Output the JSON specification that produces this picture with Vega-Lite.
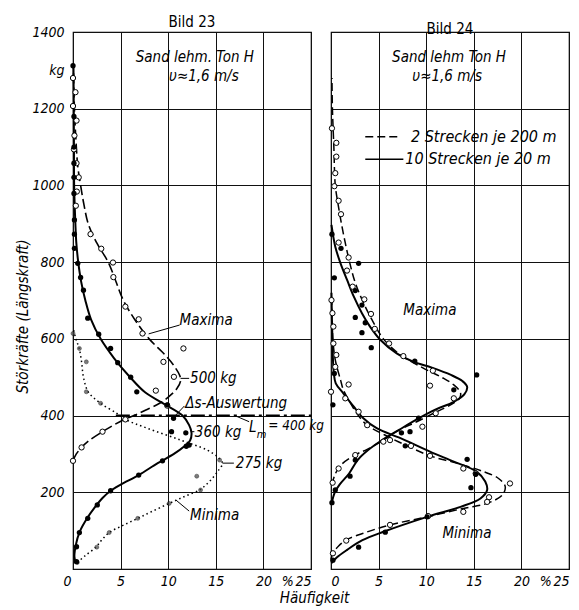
{
  "$schema": "https://vega.github.io/schema/vega-lite/v6.json",
  "padding": {"left": 14, "top": 14, "right": 4, "bottom": 2},
  "spacing": 20,
  "bounds": "flush",
  "config": {
    "font": "Liberation Sans Narrow, DejaVu Sans Condensed, sans-serif",
    "view": {"stroke": "black", "strokeWidth": 1.2},
    "axis": {
      "labelFont": "Liberation Sans Narrow, DejaVu Sans Condensed, sans-serif",
      "labelFontStyle": "italic", "labelFontSize": 14, "labelColor": "black",
      "titleFont": "Liberation Sans Narrow, DejaVu Sans Condensed, sans-serif",
      "titleFontStyle": "italic", "titleFontWeight": "normal", "titleFontSize": 15, "titleColor": "black",
      "gridColor": "#111", "gridWidth": 1, "ticks": false, "domain": false
    },
    "title": {"fontWeight": "normal", "fontSize": 15, "color": "black", "offset": -5, "font": "Liberation Sans Narrow, DejaVu Sans Condensed, sans-serif"},
    "text": {"fontStyle": "italic", "fontSize": 15, "color": "black", "font": "Liberation Sans Narrow, DejaVu Sans Condensed, sans-serif"}
  },
  "datasets": {
    "curves": [
      {"c":"23a","x":0.05,"y":1300},{"c":"23a","x":0.15,"y":1200},{"c":"23a","x":0.35,"y":1100},{"c":"23a","x":0.5,"y":1050},{"c":"23a","x":0.8,"y":1000},{"c":"23a","x":1.15,"y":950},{"c":"23a","x":1.6,"y":900},{"c":"23a","x":2.5,"y":850},{"c":"23a","x":3.7,"y":800},{"c":"23a","x":4.5,"y":750},{"c":"23a","x":5.3,"y":700},{"c":"23a","x":6.5,"y":650},{"c":"23a","x":8.0,"y":600},{"c":"23a","x":9.6,"y":560},{"c":"23a","x":10.6,"y":530},{"c":"23a","x":11.2,"y":505},{"c":"23a","x":11.3,"y":490},{"c":"23a","x":10.9,"y":470},{"c":"23a","x":10.1,"y":450},{"c":"23a","x":9.1,"y":432},{"c":"23a","x":7.6,"y":414},{"c":"23a","x":6.4,"y":400},{"c":"23a","x":5.4,"y":390},{"c":"23a","x":3.9,"y":370},{"c":"23a","x":2.9,"y":355},{"c":"23a","x":1.7,"y":335},{"c":"23a","x":0.9,"y":317},{"c":"23a","x":0.35,"y":300},{"c":"23a","x":0.05,"y":285},
      {"c":"23b","x":0.05,"y":1310},{"c":"23b","x":0.08,"y":1200},{"c":"23b","x":0.1,"y":1100},{"c":"23b","x":0.12,"y":1000},{"c":"23b","x":0.25,"y":900},{"c":"23b","x":0.35,"y":850},{"c":"23b","x":0.55,"y":800},{"c":"23b","x":0.85,"y":750},{"c":"23b","x":1.3,"y":700},{"c":"23b","x":1.9,"y":650},{"c":"23b","x":2.9,"y":600},{"c":"23b","x":4.3,"y":550},{"c":"23b","x":6.0,"y":500},{"c":"23b","x":7.6,"y":460},{"c":"23b","x":9.6,"y":430},{"c":"23b","x":11.5,"y":400},{"c":"23b","x":12.2,"y":375},{"c":"23b","x":12.45,"y":355},{"c":"23b","x":12.3,"y":335},{"c":"23b","x":11.7,"y":320},{"c":"23b","x":10.6,"y":300},{"c":"23b","x":8.9,"y":276},{"c":"23b","x":6.9,"y":245},{"c":"23b","x":5.0,"y":220},{"c":"23b","x":3.95,"y":204},{"c":"23b","x":3.1,"y":185},{"c":"23b","x":2.55,"y":169},{"c":"23b","x":1.55,"y":135},{"c":"23b","x":0.7,"y":97},{"c":"23b","x":0.3,"y":63},{"c":"23b","x":0.15,"y":32},{"c":"23b","x":0.3,"y":15},
      {"c":"23c","x":0.0,"y":630},{"c":"23c","x":0.3,"y":600},{"c":"23c","x":0.65,"y":575},{"c":"23c","x":0.9,"y":540},{"c":"23c","x":1.1,"y":500},{"c":"23c","x":1.6,"y":462},{"c":"23c","x":2.9,"y":432},{"c":"23c","x":4.6,"y":406},{"c":"23c","x":5.5,"y":390},{"c":"23c","x":7.8,"y":367},{"c":"23c","x":11.3,"y":336},{"c":"23c","x":14.1,"y":310},{"c":"23c","x":15.3,"y":290},{"c":"23c","x":15.7,"y":275},{"c":"23c","x":15.3,"y":258},{"c":"23c","x":14.8,"y":241},{"c":"23c","x":14.0,"y":220},{"c":"23c","x":13.3,"y":206},{"c":"23c","x":11.8,"y":190},{"c":"23c","x":10.1,"y":171},{"c":"23c","x":8.3,"y":150},{"c":"23c","x":6.8,"y":132},{"c":"23c","x":5.2,"y":113},{"c":"23c","x":3.8,"y":95},{"c":"23c","x":3.0,"y":75},{"c":"23c","x":2.4,"y":57},{"c":"23c","x":1.3,"y":35},{"c":"23c","x":0.45,"y":17},
      {"c":"24d","x":0.1,"y":1280},{"c":"24d","x":0.15,"y":1200},{"c":"24d","x":0.3,"y":1100},{"c":"24d","x":0.45,"y":1000},{"c":"24d","x":0.75,"y":950},{"c":"24d","x":1.1,"y":900},{"c":"24d","x":1.5,"y":850},{"c":"24d","x":1.95,"y":800},{"c":"24d","x":2.5,"y":750},{"c":"24d","x":3.3,"y":700},{"c":"24d","x":4.3,"y":650},{"c":"24d","x":5.5,"y":600},{"c":"24d","x":7.2,"y":560},{"c":"24d","x":9.6,"y":525},{"c":"24d","x":11.6,"y":500},{"c":"24d","x":12.9,"y":480},{"c":"24d","x":13.6,"y":460},{"c":"24d","x":13.5,"y":445},{"c":"24d","x":12.7,"y":430},{"c":"24d","x":11.1,"y":410},{"c":"24d","x":9.0,"y":384},{"c":"24d","x":7.0,"y":360},{"c":"24d","x":5.5,"y":336},{"c":"24d","x":3.8,"y":312},{"c":"24d","x":2.5,"y":297},{"c":"24d","x":1.0,"y":270},{"c":"24d","x":0.4,"y":245},{"c":"24d","x":0.1,"y":220},
      {"c":"24e","x":0.05,"y":897},{"c":"24e","x":0.45,"y":840},{"c":"24e","x":1.0,"y":797},{"c":"24e","x":1.7,"y":753},{"c":"24e","x":2.4,"y":710},{"c":"24e","x":3.25,"y":667},{"c":"24e","x":4.1,"y":632},{"c":"24e","x":5.2,"y":597},{"c":"24e","x":6.9,"y":562},{"c":"24e","x":8.7,"y":540},{"c":"24e","x":10.6,"y":525},{"c":"24e","x":12.6,"y":506},{"c":"24e","x":13.8,"y":490},{"c":"24e","x":14.3,"y":475},{"c":"24e","x":14.0,"y":455},{"c":"24e","x":12.9,"y":436},{"c":"24e","x":10.9,"y":415},{"c":"24e","x":9.0,"y":390},{"c":"24e","x":7.1,"y":362},{"c":"24e","x":5.3,"y":335},{"c":"24e","x":3.9,"y":310},{"c":"24e","x":2.8,"y":284},{"c":"24e","x":1.9,"y":249},{"c":"24e","x":0.9,"y":220},{"c":"24e","x":0.4,"y":200},{"c":"24e","x":0.05,"y":170},
      {"c":"24f","x":0.05,"y":720},{"c":"24f","x":0.12,"y":650},{"c":"24f","x":0.2,"y":597},{"c":"24f","x":0.45,"y":545},{"c":"24f","x":1.0,"y":493},{"c":"24f","x":1.3,"y":467},{"c":"24f","x":1.85,"y":441},{"c":"24f","x":2.7,"y":406},{"c":"24f","x":3.8,"y":375},{"c":"24f","x":5.6,"y":350},{"c":"24f","x":8.0,"y":321},{"c":"24f","x":10.4,"y":295},{"c":"24f","x":13.2,"y":276},{"c":"24f","x":16.0,"y":254},{"c":"24f","x":17.6,"y":236},{"c":"24f","x":18.3,"y":215},{"c":"24f","x":18.0,"y":193},{"c":"24f","x":16.4,"y":171},{"c":"24f","x":13.9,"y":158},{"c":"24f","x":10.1,"y":136},{"c":"24f","x":6.2,"y":115},{"c":"24f","x":3.6,"y":95},{"c":"24f","x":1.7,"y":77},{"c":"24f","x":0.8,"y":60},{"c":"24f","x":0.2,"y":41},{"c":"24f","x":0.0,"y":25},
      {"c":"24g","x":0.05,"y":720},{"c":"24g","x":0.1,"y":650},{"c":"24g","x":0.15,"y":600},{"c":"24g","x":0.2,"y":550},{"c":"24g","x":0.3,"y":510},{"c":"24g","x":0.5,"y":484},{"c":"24g","x":1.3,"y":458},{"c":"24g","x":2.4,"y":423},{"c":"24g","x":3.4,"y":393},{"c":"24g","x":4.8,"y":367},{"c":"24g","x":7.3,"y":341},{"c":"24g","x":10.4,"y":306},{"c":"24g","x":12.9,"y":280},{"c":"24g","x":15.3,"y":254},{"c":"24g","x":16.2,"y":228},{"c":"24g","x":16.4,"y":206},{"c":"24g","x":15.7,"y":184},{"c":"24g","x":13.6,"y":162},{"c":"24g","x":10.1,"y":136},{"c":"24g","x":5.5,"y":97},{"c":"24g","x":3.3,"y":75},{"c":"24g","x":1.7,"y":50},{"c":"24g","x":0.6,"y":30},{"c":"24g","x":0.05,"y":15}
    ],
    "pts": [
      {"p":"23","k":"o","x":0,"y":1280},{"p":"23","k":"o","x":0.26,"y":1243},{"p":"23","k":"o","x":0,"y":1207},{"p":"23","k":"o","x":0.37,"y":1169},{"p":"23","k":"o","x":0.15,"y":1130},{"p":"23","k":"o","x":0.1,"y":1094},{"p":"23","k":"o","x":0.37,"y":1058},{"p":"23","k":"o","x":0.6,"y":1021},{"p":"23","k":"o","x":0.4,"y":984},{"p":"23","k":"o","x":0.3,"y":947},{"p":"23","k":"o","x":1.84,"y":873},{"p":"23","k":"o","x":2.97,"y":835},{"p":"23","k":"o","x":4.2,"y":799},{"p":"23","k":"o","x":4.24,"y":761},{"p":"23","k":"o","x":5.5,"y":684},{"p":"23","k":"o","x":6.9,"y":651},{"p":"23","k":"o","x":7.3,"y":614},{"p":"23","k":"o","x":11.6,"y":575},{"p":"23","k":"o","x":9.5,"y":540},{"p":"23","k":"o","x":10.6,"y":501},{"p":"23","k":"o","x":8.7,"y":465},{"p":"23","k":"o","x":9.9,"y":426},{"p":"23","k":"o","x":5.5,"y":390},{"p":"23","k":"o","x":3.1,"y":358},{"p":"23","k":"o","x":0.9,"y":317},{"p":"23","k":"o","x":0,"y":282},
      {"p":"23","k":"f","x":0,"y":1312},{"p":"23","k":"f","x":0.1,"y":1180},{"p":"23","k":"f","x":0.1,"y":1100},{"p":"23","k":"f","x":0.1,"y":1058},{"p":"23","k":"f","x":0.1,"y":1021},{"p":"23","k":"f","x":0.1,"y":979},{"p":"23","k":"f","x":0.15,"y":910},{"p":"23","k":"f","x":0.15,"y":873},{"p":"23","k":"f","x":0.15,"y":836},{"p":"23","k":"f","x":0.5,"y":797},{"p":"23","k":"f","x":0.8,"y":760},{"p":"23","k":"f","x":1.1,"y":727},{"p":"23","k":"f","x":1.55,"y":654},{"p":"23","k":"f","x":2.7,"y":612},{"p":"23","k":"f","x":3.95,"y":575},{"p":"23","k":"f","x":4.7,"y":538},{"p":"23","k":"f","x":6.06,"y":500},{"p":"23","k":"f","x":6.7,"y":462},{"p":"23","k":"f","x":9.9,"y":428},{"p":"23","k":"f","x":10.56,"y":393},{"p":"23","k":"f","x":10.35,"y":358},{"p":"23","k":"f","x":11.85,"y":355},{"p":"23","k":"f","x":12.2,"y":323},{"p":"23","k":"f","x":11.9,"y":320},{"p":"23","k":"f","x":9.4,"y":282},{"p":"23","k":"f","x":6.9,"y":245},{"p":"23","k":"f","x":3.95,"y":204},{"p":"23","k":"f","x":2.55,"y":167},{"p":"23","k":"f","x":1.55,"y":132},{"p":"23","k":"f","x":0.67,"y":95},{"p":"23","k":"f","x":0.37,"y":58},{"p":"23","k":"f","x":0.37,"y":19},
      {"p":"23","k":"m","x":0,"y":614},{"p":"23","k":"m","x":0.67,"y":575},{"p":"23","k":"m","x":1.4,"y":540},{"p":"23","k":"m","x":1.4,"y":462},{"p":"23","k":"m","x":2.9,"y":432},{"p":"23","k":"m","x":5.5,"y":390},{"p":"23","k":"m","x":15.4,"y":284},{"p":"23","k":"m","x":13.0,"y":242},{"p":"23","k":"m","x":13.4,"y":206},{"p":"23","k":"m","x":10.1,"y":171},{"p":"23","k":"m","x":6.8,"y":132},{"p":"23","k":"m","x":3.8,"y":95},{"p":"23","k":"m","x":2.5,"y":57},{"p":"23","k":"m","x":0.45,"y":17},
      {"p":"24","k":"o","x":0.1,"y":1149},{"p":"24","k":"o","x":0.56,"y":1111},{"p":"24","k":"o","x":0.56,"y":1075},{"p":"24","k":"o","x":0.45,"y":1032},{"p":"24","k":"o","x":0.35,"y":998},{"p":"24","k":"o","x":0.8,"y":960},{"p":"24","k":"o","x":1.05,"y":925},{"p":"24","k":"o","x":0.8,"y":851},{"p":"24","k":"o","x":1.85,"y":812},{"p":"24","k":"o","x":1.68,"y":778},{"p":"24","k":"o","x":2.27,"y":736},{"p":"24","k":"o","x":3.5,"y":703},{"p":"24","k":"o","x":4.2,"y":665},{"p":"24","k":"o","x":4.6,"y":626},{"p":"24","k":"o","x":6.1,"y":588},{"p":"24","k":"o","x":7.6,"y":555},{"p":"24","k":"o","x":10.7,"y":517},{"p":"24","k":"o","x":10.4,"y":478},{"p":"24","k":"o","x":12.9,"y":445},{"p":"24","k":"o","x":11.0,"y":406},{"p":"24","k":"o","x":9.6,"y":371},{"p":"24","k":"o","x":6.2,"y":336},{"p":"24","k":"o","x":2.55,"y":297},{"p":"24","k":"o","x":0.8,"y":262},{"p":"24","k":"o","x":0.17,"y":225},
      {"p":"24","k":"o","x":0.05,"y":701},{"p":"24","k":"o","x":0.15,"y":667},{"p":"24","k":"o","x":0.25,"y":632},{"p":"24","k":"o","x":0.25,"y":588},{"p":"24","k":"o","x":0.56,"y":558},{"p":"24","k":"o","x":0.45,"y":527},{"p":"24","k":"o","x":0,"y":462},{"p":"24","k":"o","x":1.85,"y":481},{"p":"24","k":"o","x":1.5,"y":445},{"p":"24","k":"o","x":2.9,"y":410},{"p":"24","k":"o","x":3.8,"y":375},{"p":"24","k":"o","x":5.5,"y":332},{"p":"24","k":"o","x":8.4,"y":321},{"p":"24","k":"o","x":10.4,"y":295},{"p":"24","k":"o","x":13.9,"y":262},{"p":"24","k":"o","x":15.2,"y":249},{"p":"24","k":"o","x":18.8,"y":223},{"p":"24","k":"o","x":16.6,"y":187},{"p":"24","k":"o","x":16.4,"y":175},{"p":"24","k":"o","x":13.9,"y":149},{"p":"24","k":"o","x":10.2,"y":138},{"p":"24","k":"o","x":6.2,"y":115},{"p":"24","k":"o","x":1.6,"y":74},{"p":"24","k":"o","x":0.2,"y":41},
      {"p":"24","k":"f","x":0.1,"y":873},{"p":"24","k":"f","x":1.05,"y":836},{"p":"24","k":"f","x":2.9,"y":797},{"p":"24","k":"f","x":0.35,"y":759},{"p":"24","k":"f","x":2.55,"y":726},{"p":"24","k":"f","x":3.25,"y":688},{"p":"24","k":"f","x":2.55,"y":656},{"p":"24","k":"f","x":3.6,"y":642},{"p":"24","k":"f","x":3.25,"y":616},{"p":"24","k":"f","x":4.23,"y":577},{"p":"24","k":"f","x":8.8,"y":542},{"p":"24","k":"f","x":15.3,"y":506},{"p":"24","k":"f","x":12.9,"y":467},{"p":"24","k":"f","x":9.2,"y":393},{"p":"24","k":"f","x":8.3,"y":358},{"p":"24","k":"f","x":7.4,"y":355},{"p":"24","k":"f","x":2.55,"y":284},{"p":"24","k":"f","x":2.0,"y":242},{"p":"24","k":"f","x":0.45,"y":206},{"p":"24","k":"f","x":0.1,"y":173},
      {"p":"24","k":"f","x":0.2,"y":428},{"p":"24","k":"f","x":0.35,"y":510},{"p":"24","k":"f","x":7.8,"y":321},{"p":"24","k":"f","x":14.3,"y":286},{"p":"24","k":"f","x":15.2,"y":247},{"p":"24","k":"f","x":14.7,"y":212},{"p":"24","k":"f","x":10.1,"y":136},{"p":"24","k":"f","x":5.7,"y":96},{"p":"24","k":"f","x":2.9,"y":57},{"p":"24","k":"f","x":0.2,"y":23}
    ],
    "txt": [
      {"p":"23","k":"h","t":"Sand lehm. Ton H","x":12.8,"y":1335},
      {"p":"23","k":"h","t":"υ≈1,6 m/s","x":13.75,"y":1285},
      {"p":"23","k":"n","t":"Maxima","x":11.2,"y":649},
      {"p":"23","k":"n","t":"500 kg","x":12.3,"y":497},
      {"p":"23","k":"n","t":"Δs-Auswertung","x":11.8,"y":432},
      {"p":"23","k":"n","t":"360 kg","x":12.8,"y":358},
      {"p":"23","k":"n","t":"275 kg","x":17.1,"y":276},
      {"p":"23","k":"n","t":"Minima","x":12.3,"y":141},
      {"p":"23","k":"n","t":"L","x":18.5,"y":371},
      {"p":"23","k":"s","t":"m","x":19.3,"y":350},
      {"p":"23","k":"q","t":"= 400 kg","x":20.5,"y":373},
      {"p":"24","k":"h","t":"Sand lehm Ton H","x":12.4,"y":1336},
      {"p":"24","k":"h","t":"υ≈1,6 m/s","x":12.2,"y":1285},
      {"p":"24","k":"g","t":"2 Strecken je 200 m","x":8.4,"y":1127},
      {"p":"24","k":"g","t":"10 Strecken je 20 m","x":7.8,"y":1068},
      {"p":"24","k":"n","t":"Maxima","x":7.6,"y":675},
      {"p":"24","k":"n","t":"Minima","x":11.7,"y":93}
    ],
    "segs": [
      {"p":"23","k":"l","x":11.2,"y":636,"x2":7.95,"y2":613},
      {"p":"23","k":"l","x":11.3,"y":497,"x2":12.2,"y2":497},
      {"p":"23","k":"l","x":11.7,"y":425,"x2":10.6,"y2":396},
      {"p":"23","k":"l","x":12.45,"y":358,"x2":12.75,"y2":358},
      {"p":"23","k":"l","x":15.7,"y":276,"x2":16.9,"y2":276},
      {"p":"23","k":"l","x":12.2,"y":151,"x2":10.8,"y2":180},
      {"p":"23","k":"l","x":18.5,"y":384,"x2":16.9,"y2":401},
      {"p":"23","k":"lm","x":4.5,"y":400,"x2":25,"y2":400},
      {"p":"24","k":"ld","x":3.6,"y":1127,"x2":7.3,"y2":1127},
      {"p":"24","k":"ls","x":3.6,"y":1068,"x2":7.6,"y2":1068}
    ]
  },
  "hconcat": [
    {
      "width": 238, "height": 537,
      "title": {"text": "Bild 23"},
      "encoding": {
        "x": {"field": "x", "type": "quantitative", "scale": {"domain": [0, 25], "nice": false},
          "axis": {"values": [0, 5, 10, 15, 20, 22.5, 25], "format": "d",
            "labelExpr": "datum.value == 22.5 ? '%' : datum.label",
            "gridOpacity": {"condition": {"test": "datum.value == 22.5", "value": 0}, "value": 1},
            "labelOffset": {"condition": {"test": "datum.value == 0", "value": -10}, "value": 0},
            "labelPadding": 5,
            "title": "Häufigkeit", "titleX": 241, "titleY": 28, "titleAlign": "center", "titleBaseline": "middle"}},
        "y": {"field": "y", "type": "quantitative", "scale": {"domain": [0, 1400], "nice": false},
          "axis": {"values": [0, 200, 400, 600, 800, 1000, 1200, 1300, 1400], "format": "d",
            "labelExpr": "datum.value == 1300 ? 'kg' : datum.value == 0 ? '' : datum.label",
            "gridOpacity": {"condition": {"test": "datum.value == 1300", "value": 0}, "value": 1},
            "labelPadding": 9,
            "title": "Störkräfte (Längskraft)", "titleX": -51, "titleY": 284, "titleAngle": -90, "titleAlign": "center", "titleBaseline": "middle"}}
      },
      "layer": [
        {"data": {"name": "segs"}, "transform": [{"filter": "datum.p == '23' && datum.k == 'lm'"}],
          "mark": {"type": "rule", "color": "black", "strokeWidth": 2, "strokeDash": [14, 4, 3, 4]},
          "encoding": {"x2": {"field": "x2"}, "y2": {"field": "y2"}}},
        {"data": {"name": "curves"}, "transform": [{"filter": "datum.c == '23a'"}],
          "mark": {"type": "line", "interpolate": "catmull-rom", "color": "black", "strokeWidth": 1.6, "strokeDash": [10, 4]},
          "encoding": {"order": {"field": "y", "type": "quantitative"}}},
        {"data": {"name": "curves"}, "transform": [{"filter": "datum.c == '23b'"}],
          "mark": {"type": "line", "interpolate": "catmull-rom", "color": "black", "strokeWidth": 2},
          "encoding": {"order": {"field": "y", "type": "quantitative"}}},
        {"data": {"name": "curves"}, "transform": [{"filter": "datum.c == '23c'"}],
          "mark": {"type": "line", "interpolate": "catmull-rom", "color": "black", "strokeWidth": 1.5, "strokeDash": [1.5, 3]},
          "encoding": {"order": {"field": "y", "type": "quantitative"}}},
        {"data": {"name": "pts"}, "transform": [{"filter": "datum.p == '23' && datum.k == 'm'"}],
          "mark": {"type": "point", "shape": "circle", "filled": true, "size": 16, "color": "#444", "stroke": "black", "strokeWidth": 0.6}},
        {"data": {"name": "pts"}, "transform": [{"filter": "datum.p == '23' && datum.k == 'o'"}],
          "mark": {"type": "point", "shape": "circle", "filled": true, "size": 28, "fill": "white", "stroke": "black", "strokeWidth": 1, "opacity": 1}},
        {"data": {"name": "pts"}, "transform": [{"filter": "datum.p == '23' && datum.k == 'f'"}],
          "mark": {"type": "point", "shape": "circle", "filled": true, "size": 28, "color": "black", "opacity": 1}},
        {"data": {"name": "segs"}, "transform": [{"filter": "datum.p == '23' && datum.k == 'l'"}],
          "mark": {"type": "rule", "color": "black", "strokeWidth": 1},
          "encoding": {"x2": {"field": "x2"}, "y2": {"field": "y2"}}},
        {"data": {"name": "txt"}, "transform": [{"filter": "datum.p == '23' && datum.k == 'h'"}],
          "mark": {"type": "text", "align": "center", "baseline": "middle"},
          "encoding": {"text": {"field": "t"}}},
        {"data": {"name": "txt"}, "transform": [{"filter": "datum.p == '23' && datum.k == 'n'"}],
          "mark": {"type": "text", "align": "left", "baseline": "middle"},
          "encoding": {"text": {"field": "t"}}},
        {"data": {"name": "txt"}, "transform": [{"filter": "datum.p == '23' && datum.k == 'q'"}],
          "mark": {"type": "text", "align": "left", "baseline": "middle", "fontSize": 13.5},
          "encoding": {"text": {"field": "t"}}},
        {"data": {"name": "txt"}, "transform": [{"filter": "datum.p == '23' && datum.k == 's'"}],
          "mark": {"type": "text", "align": "left", "baseline": "middle", "fontSize": 11},
          "encoding": {"text": {"field": "t"}}}
      ]
    },
    {
      "width": 238, "height": 537,
      "title": {"text": "Bild 24"},
      "encoding": {
        "x": {"field": "x", "type": "quantitative", "scale": {"domain": [0, 25], "nice": false},
          "axis": {"values": [0, 5, 10, 15, 20, 22.5, 25], "format": "d",
            "labelExpr": "datum.value == 22.5 ? '%' : datum.label",
            "gridOpacity": {"condition": {"test": "datum.value == 22.5", "value": 0}, "value": 1},
            "labelPadding": 5, "title": null}},
        "y": {"field": "y", "type": "quantitative", "scale": {"domain": [0, 1400], "nice": false},
          "axis": {"values": [0, 200, 400, 600, 800, 1000, 1200, 1400], "labels": false, "title": null}}
      },
      "layer": [
        {"data": {"name": "curves"}, "transform": [{"filter": "datum.c == '24d' || datum.c == '24f'"}],
          "mark": {"type": "line", "interpolate": "catmull-rom", "color": "black", "strokeWidth": 1.5, "strokeDash": [8, 4]},
          "encoding": {"detail": {"field": "c"}, "order": {"field": "y", "type": "quantitative"}}},
        {"data": {"name": "curves"}, "transform": [{"filter": "datum.c == '24e' || datum.c == '24g'"}],
          "mark": {"type": "line", "interpolate": "catmull-rom", "color": "black", "strokeWidth": 2},
          "encoding": {"detail": {"field": "c"}, "order": {"field": "y", "type": "quantitative"}}},
        {"data": {"name": "pts"}, "transform": [{"filter": "datum.p == '24' && datum.k == 'o'"}],
          "mark": {"type": "point", "shape": "circle", "filled": true, "size": 28, "fill": "white", "stroke": "black", "strokeWidth": 1, "opacity": 1}},
        {"data": {"name": "pts"}, "transform": [{"filter": "datum.p == '24' && datum.k == 'f'"}],
          "mark": {"type": "point", "shape": "circle", "filled": true, "size": 28, "color": "black", "opacity": 1}},
        {"data": {"name": "segs"}, "transform": [{"filter": "datum.p == '24' && datum.k == 'ld'"}],
          "mark": {"type": "rule", "color": "black", "strokeWidth": 1.5, "strokeDash": [8, 4]},
          "encoding": {"x2": {"field": "x2"}, "y2": {"field": "y2"}}},
        {"data": {"name": "segs"}, "transform": [{"filter": "datum.p == '24' && datum.k == 'ls'"}],
          "mark": {"type": "rule", "color": "black", "strokeWidth": 1.5},
          "encoding": {"x2": {"field": "x2"}, "y2": {"field": "y2"}}},
        {"data": {"name": "txt"}, "transform": [{"filter": "datum.p == '24' && datum.k == 'h'"}],
          "mark": {"type": "text", "align": "center", "baseline": "middle"},
          "encoding": {"text": {"field": "t"}}},
        {"data": {"name": "txt"}, "transform": [{"filter": "datum.p == '24' && datum.k == 'n'"}],
          "mark": {"type": "text", "align": "left", "baseline": "middle"},
          "encoding": {"text": {"field": "t"}}},
        {"data": {"name": "txt"}, "transform": [{"filter": "datum.p == '24' && datum.k == 'g'"}],
          "mark": {"type": "text", "align": "left", "baseline": "middle", "fontSize": 16},
          "encoding": {"text": {"field": "t"}}}
      ]
    }
  ]
}
